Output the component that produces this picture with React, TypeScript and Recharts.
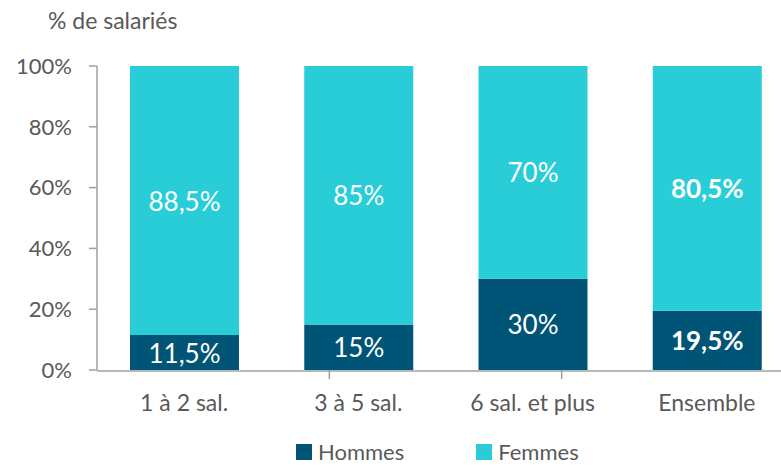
import React from 'react';
import { BarChart, Bar, XAxis, YAxis, Legend, LabelList } from 'recharts';

const categories = ['1 à 2 sal.', '3 à 5 sal.', '6 sal. et plus', 'Ensemble'];
const hommes = [11.5, 15, 30, 19.5];
const femmes = [88.5, 85, 70, 80.5];
const yTicks = [0, 20, 40, 60, 80, 100];
const boundaryTicks = [1, 2, 3];
const legendOrder = ['Hommes', 'Femmes'];

const data = categories.map((name, i) => ({ name, hommes: hommes[i], femmes: femmes[i] }));

const TEXT = '#595959';
const AXIS = '#a0a0a0';
const FONT = 'Lato, "Open Sans", sans-serif';

const fmt = (v: number) => String(v).replace('.', ',') + '%';

const renderLabel = (props: any) => {
  const { x, y, width, height, value, index } = props;
  const bold = index === categories.length - 1;
  return (
    <text
      x={Number(x) + Number(width) / 2}
      y={Number(y) + Number(height) / 2}
      textAnchor="middle"
      dominantBaseline="central"
      fill="#fff"
      fontSize={26}
      fontWeight={bold ? 700 : 400}
      fontFamily={FONT}
    >
      {fmt(value)}
    </text>
  );
};

const renderLegend = (props: any) => {
  const payload = [...(props.payload || [])].sort(
    (a: any, b: any) => legendOrder.indexOf(a.value) - legendOrder.indexOf(b.value)
  );
  return (
    <div style={{ display: 'flex', gap: 72, fontFamily: FONT, fontSize: 22, color: TEXT, lineHeight: '24px' }}>
      {payload.map((p: any) => (
        <div key={p.value} style={{ display: 'flex', alignItems: 'center' }}>
          <span style={{ width: 16, height: 16, background: p.color, marginRight: 6, display: 'inline-block' }} />
          <span>{p.value}</span>
        </div>
      ))}
    </div>
  );
};

export default function App() {
  return (
    <div style={{ position: 'absolute', left: 0, top: 0, width: 781, height: 466, overflow: 'hidden', background: '#fff' }}>
      <div style={{ position: 'absolute', left: 48, top: 6, fontFamily: FONT, fontSize: 23, color: TEXT }}>
        % de salariés
      </div>
      <BarChart width={794} height={466} data={data} margin={{ top: 66, right: 0, left: 0, bottom: 10 }}>
        <XAxis
          xAxisId="bounds"
          type="number"
          domain={[0, 4]}
          ticks={boundaryTicks}
          tick={() => <g />}
          tickSize={9}
          axisLine={false}
          tickLine={{ stroke: AXIS, strokeWidth: 1.5 }}
          height={1}
        />
        <XAxis
          xAxisId="cat"
          dataKey="name"
          tickLine={false}
          axisLine={{ stroke: AXIS, strokeWidth: 1.5 }}
          tick={{ fill: TEXT, fontSize: 23, fontFamily: FONT }}
          tickMargin={18}
          height={61}
        />
        <YAxis
          domain={[0, 100]}
          ticks={yTicks}
          tickFormatter={(v) => v + '%'}
          tick={{ fill: TEXT, fontSize: 22, fontFamily: FONT }}
          tickSize={8}
          tickMargin={17}
          axisLine={{ stroke: AXIS, strokeWidth: 1.5 }}
          tickLine={{ stroke: AXIS, strokeWidth: 1.5 }}
          width={97}
        />
        <Legend content={renderLegend} wrapperStyle={{ left: 296, top: 440, width: 'auto' }} />
        <Bar xAxisId="cat" dataKey="hommes" name="Hommes" stackId="a" fill="#005577" barSize={109} isAnimationActive={false}>
          <LabelList dataKey="hommes" content={renderLabel} />
        </Bar>
        <Bar xAxisId="cat" dataKey="femmes" name="Femmes" stackId="a" fill="#29cdd8" barSize={109} isAnimationActive={false}>
          <LabelList dataKey="femmes" content={renderLabel} />
        </Bar>
      </BarChart>
    </div>
  );
}
